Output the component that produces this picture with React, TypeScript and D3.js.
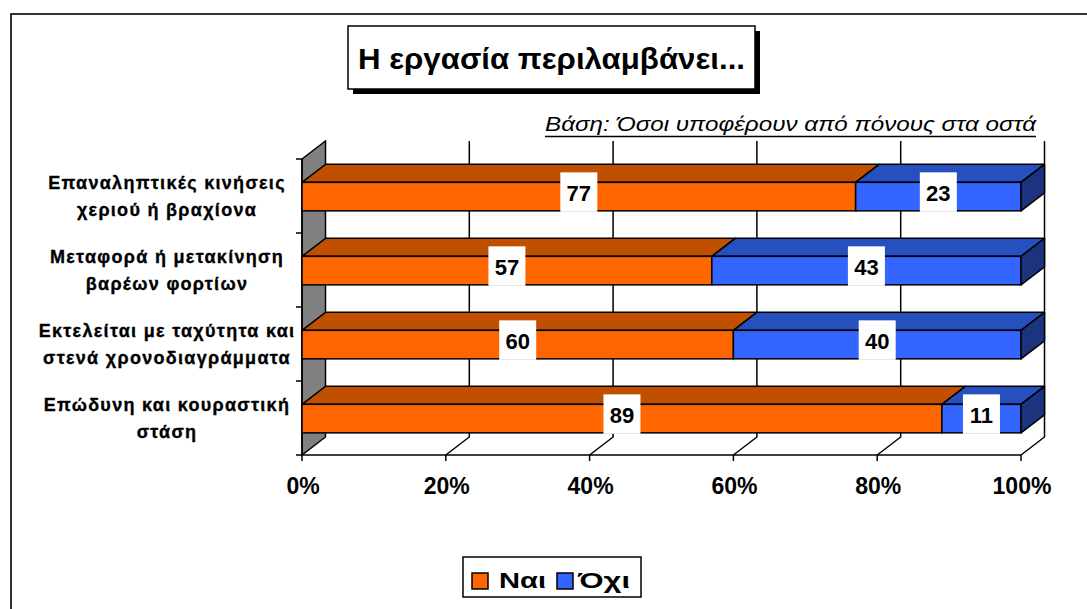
import React from "react";
import * as d3 from "d3";

const categories = [
  "Επαναληπτικές κινήσεις|χεριού ή βραχίονα",
  "Μεταφορά ή μετακίνηση|βαρέων φορτίων",
  "Εκτελείται με ταχύτητα και|στενά χρονοδιαγράμματα",
  "Επώδυνη και κουραστική|στάση",
];
const yesValues = [77, 57, 60, 89];
const noValues = [23, 43, 40, 11];
const seriesNames = ["Ναι", "Όχι"];
const xTicks = [0, 20, 40, 60, 80, 100];
const titleText = "Η εργασία περιλαμβάνει...";
const subtitleText = "Βάση: Όσοι υποφέρουν από πόνους στα οστά";

const FONT = "'Liberation Sans', Arial, sans-serif";
const COLORS = {
  yesFront: "#FF6600",
  yesTop: "#C04F00",
  noFront: "#3366FF",
  noTop: "#2650BE",
  noSide: "#1C3480",
  wall: "#808080",
};

export default function App() {
  const W = 1087, H = 609;
  const X0 = 302, X1 = 1021, YT = 159, YB = 455, DX = 23.5, DY = -18;
  const x = d3.scaleLinear().domain([0, 100]).range([X0, X1]);
  const y = d3
    .scaleBand<string>()
    .domain(categories)
    .range([YT, YB])
    .paddingInner(0.615)
    .paddingOuter(0.3075);
  const bw = y.bandwidth();
  const step = y.step();

  const poly = (pts: number[][]) => pts.map((p) => p.join(",")).join(" ");

  const bars = categories.map((cat, i) => {
    const top = (y(cat) as number) + 0.6;
    const bot = top + bw;
    const segs = [
      { a: 0, b: yesValues[i], front: COLORS.yesFront, topC: COLORS.yesTop, v: yesValues[i] },
      { a: yesValues[i], b: yesValues[i] + noValues[i], front: COLORS.noFront, topC: COLORS.noTop, v: noValues[i] },
    ];
    return { cat, top, bot, segs };
  });

  return (
    <div style={{ position: "absolute", left: 0, top: 0 }}>
      <svg width={W} height={H} style={{ display: "block", background: "#fff" }}>
        {/* outer frame */}
        <rect x={11} y={14} width={1100} height={640} fill="#fff" stroke="#000" strokeWidth={1.6} />

        {/* title */}
        <rect x={353} y={31} width={407} height={63} fill="#000" />
        <rect x={348} y={26} width={407} height={63} fill="#fff" stroke="#000" strokeWidth={1.5} />
        <text
          x={551.5}
          y={69}
          textAnchor="middle"
          fontFamily={FONT}
          fontWeight="bold"
          fontSize={30}
          textLength={387}
          lengthAdjust="spacingAndGlyphs"
        >
          {titleText}
        </text>

        {/* subtitle */}
        <text
          x={1036}
          y={131}
          textAnchor="end"
          fontFamily={FONT}
          fontStyle="italic"
          fontSize={21}
          textLength={491}
          lengthAdjust="spacingAndGlyphs"
        >
          {subtitleText}
        </text>
        <line x1={545} x2={1036} y1={136.5} y2={136.5} stroke="#000" strokeWidth={1.5} />

        {/* back wall gridlines + floor diagonals */}
        {xTicks.filter((t) => t > 0).map((t) => (
          <polyline
            key={"g" + t}
            points={poly([
              [x(t) + DX, YT + DY],
              [x(t) + DX, YB + DY],
              [x(t), YB],
            ])}
            fill="none"
            stroke="#000"
            strokeWidth={1.5}
          />
        ))}

        {/* left wall */}
        <polygon
          points={poly([
            [X0, YT],
            [X0 + DX, YT + DY],
            [X0 + DX, YB + DY],
            [X0, YB],
          ])}
          fill={COLORS.wall}
          stroke="#000"
          strokeWidth={1.5}
        />

        {/* axes */}
        <line x1={X0} x2={X1} y1={YB} y2={YB} stroke="#000" strokeWidth={1.5} />
        <line x1={X0} x2={X0} y1={YT} y2={YB} stroke="#000" strokeWidth={1.5} />
        {xTicks.map((t) => (
          <line key={"xt" + t} x1={x(t)} x2={x(t)} y1={YB} y2={YB + 6} stroke="#000" strokeWidth={1.5} />
        ))}
        {d3.range(categories.length + 1).map((k) => (
          <line
            key={"yt" + k}
            x1={X0 - 6}
            x2={X0}
            y1={YT + k * step}
            y2={YT + k * step}
            stroke="#000"
            strokeWidth={1.5}
          />
        ))}
        {xTicks.map((t) => (
          <text
            key={"xl" + t}
            x={x(t) + 1}
            y={494}
            textAnchor="middle"
            fontFamily={FONT}
            fontWeight="bold"
            fontSize={23}
          >
            {t + "%"}
          </text>
        ))}

        {/* category labels */}
        {categories.map((cat) => {
          const lines = cat.split("|");
          const cy = (y(cat) as number) + bw / 2;
          return (
            <text
              key={cat}
              x={167}
              textAnchor="middle"
              fontFamily={FONT}
              fontWeight="bold"
              fontSize={18}
              letterSpacing={1.3}
              stroke="#000"
              strokeWidth={0.35}
            >
              {lines.map((ln, j) => (
                <tspan key={j} x={167} y={cy - 13.5 * (lines.length - 1) + 27 * j + 6.5}>
                  {ln}
                </tspan>
              ))}
            </text>
          );
        })}

        {/* bars */}
        {bars.map((b) => (
          <g key={b.cat}>
            {b.segs.map((s, j) => {
              const xa = x(s.a), xb = x(s.b);
              return (
                <g key={j}>
                  <polygon
                    points={poly([
                      [xa, b.top],
                      [xa + DX, b.top + DY],
                      [xb + DX, b.top + DY],
                      [xb, b.top],
                    ])}
                    fill={s.topC}
                    stroke="#000"
                    strokeWidth={1.5}
                    strokeLinejoin="round"
                  />
                  <rect x={xa} y={b.top} width={xb - xa} height={bw} fill={s.front} stroke="#000" strokeWidth={1.5} />
                  {j === b.segs.length - 1 && (
                    <polygon
                      points={poly([
                        [xb, b.top],
                        [xb + DX, b.top + DY],
                        [xb + DX, b.bot + DY],
                        [xb, b.bot],
                      ])}
                      fill={COLORS.noSide}
                      stroke="#000"
                      strokeWidth={1.5}
                      strokeLinejoin="round"
                    />
                  )}
                </g>
              );
            })}
            {b.segs.map((s, j) => {
              const cx = (x(s.a) + x(s.b)) / 2;
              const label = String(s.v);
              const w = 11 + 13 * label.length;
              return (
                <g key={"l" + j}>
                  <rect x={cx - w / 2} y={b.top - 10} width={w} height={bw + 11} fill="#fff" />
                  <text
                    x={cx}
                    y={b.top + bw / 2 + 4}
                    textAnchor="middle"
                    fontFamily={FONT}
                    fontWeight="bold"
                    fontSize={22}
                  >
                    {label}
                  </text>
                </g>
              );
            })}
          </g>
        ))}

        {/* legend */}
        <rect x={463} y={557} width={178} height={40} fill="#fff" stroke="#000" strokeWidth={1.5} />
        {seriesNames.map((n, i) => {
          const sx = [472, 557][i];
          const tx = [499, 578][i];
          const tw = [47, 52][i];
          return (
            <g key={n}>
              <rect
                x={sx}
                y={573}
                width={16}
                height={16}
                fill={i === 0 ? COLORS.yesFront : COLORS.noFront}
                stroke="#000"
                strokeWidth={1.5}
              />
              <text
                x={tx}
                y={588}
                fontFamily={FONT}
                fontWeight="bold"
                fontSize={22}
                textLength={tw}
                lengthAdjust="spacingAndGlyphs"
              >
                {n}
              </text>
            </g>
          );
        })}
      </svg>
    </div>
  );
}
